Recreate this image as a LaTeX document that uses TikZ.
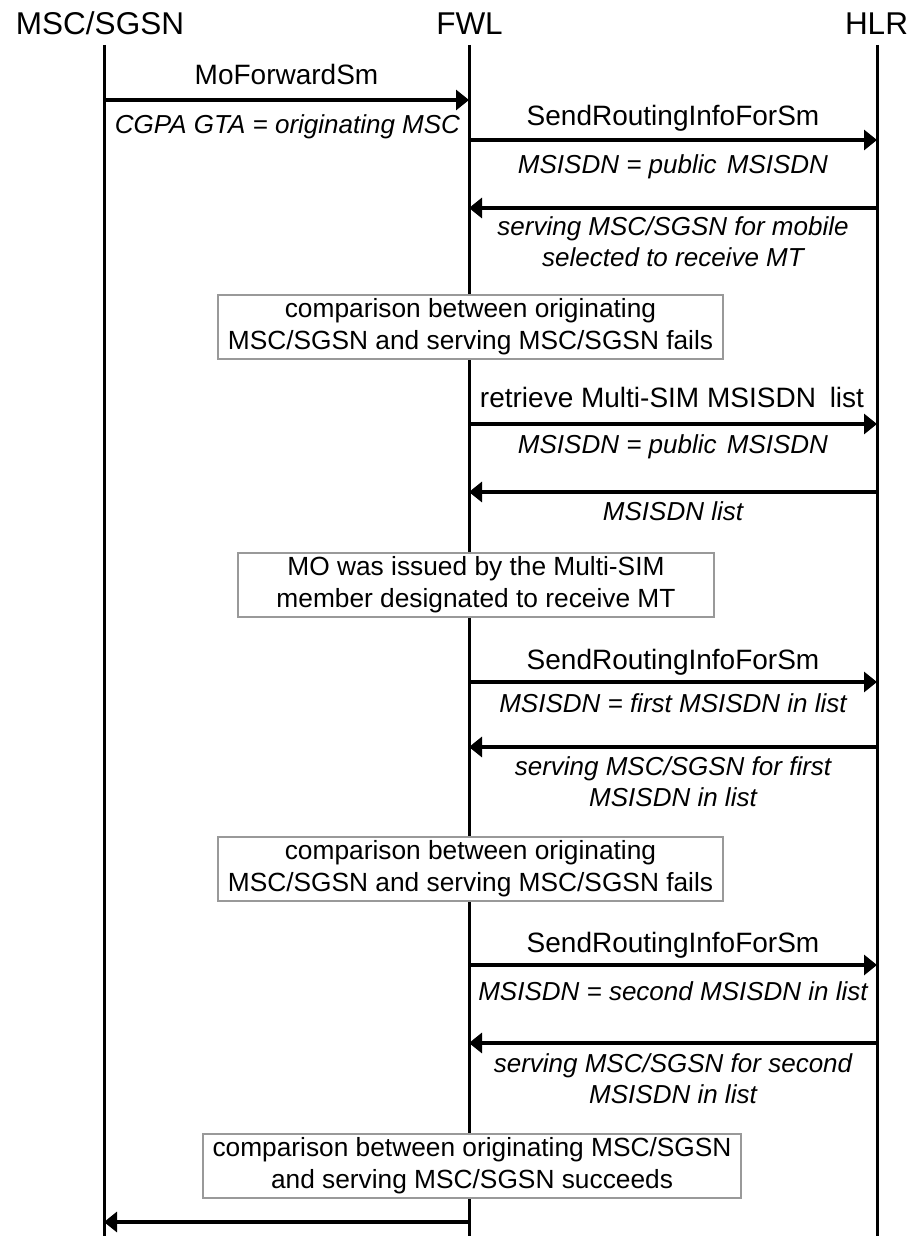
\documentclass[tikz,border=0pt]{standalone}
\usepackage{fontspec}
\setmainfont{Liberation Sans}
\usetikzlibrary{arrows.meta}
\begin{document}
\begin{tikzpicture}[x=1pt,y=-1pt,
  life/.style={line width=3pt},
  msg/.style={line width=3.2pt,-{Triangle[length=13pt,width=20pt]}},
  head/.style={anchor=base,inner sep=0pt,font=\fontsize{31.5}{36}\selectfont},
  lbl/.style={anchor=base,inner sep=0pt,font=\fontsize{28}{32}\selectfont},
  ital/.style={anchor=base,inner sep=0pt,align=center,font=\fontsize{26}{31}\selectfont\itshape},
  note/.style={draw=black!40,line width=1.3pt,fill=white,align=center,inner sep=0pt,
    minimum height=64pt,font=\fontsize{26.3}{32}\selectfont}
]
\useasboundingbox (0,0) rectangle (911,1236);

% headers
\node[head] (hm) at (100,35) {MSC/SGSN};
\node[head] (hf) at (469.5,35) {FWL};
\node[head] (hh) at (876.5,35) {HLR};

% lifelines
\coordinate (mtop) at (104,45);  \coordinate (mbot) at (104,1236);
\coordinate (ftop) at (469,45);  \coordinate (fbot) at (469,1236);
\coordinate (htop) at (877,45);  \coordinate (hbot) at (877,1236);
\draw[life] (mtop) -- (mbot);
\draw[life] (ftop) -- (fbot);
\draw[life] (htop) -- (hbot);

% message end points
\foreach \n/\y in {1/100,10/1222}{
  \coordinate (m\n) at (104,\y); \coordinate (f\n) at (469,\y);}
\foreach \n/\y in {2/140,3/208,4/424,5/492,6/682,7/747,8/965,9/1043}{
  \coordinate (f\n) at (469,\y); \coordinate (h\n) at (877,\y);}

% 1
\draw[msg] (m1) -- (f1);
\node[lbl] (l1) at (286.5,85) {MoForwardSm};
\node[ital] (i1) at (287.5,133) {CGPA GTA = originating MSC};
% 2
\draw[msg] (f2) -- (h2);
\node[lbl] (l2) at (673,126) {SendRoutingInfoForSm};
\node[ital] (i2) at (673,173) {MSISDN = public\hspace{3pt} MSISDN};
% 3
\draw[msg] (h3) -- (f3);
\node[ital] (i3) at (673,266) {serving MSC/SGSN for mobile\\selected to receive MT};
% box 1
\node[note,minimum width=505pt] (b1) at (470.5,327) {comparison between originating\\MSC/SGSN and serving MSC/SGSN fails};
% 4
\draw[msg] (f4) -- (h4);
\node[lbl] (l4) at (672,407) {retrieve Multi-SIM MSISDN\hspace{6pt} list};
\node[ital] (i4) at (673,453) {MSISDN = public\hspace{3pt} MSISDN};
% 5
\draw[msg] (h5) -- (f5);
\node[ital] (i5) at (673,520) {MSISDN list};
% box 2
\node[note,minimum width=476pt] (b2) at (476,585) {MO was issued by the Multi-SIM\\member designated to receive MT};
% 6
\draw[msg] (f6) -- (h6);
\node[lbl] (l6) at (673,669) {SendRoutingInfoForSm};
\node[ital] (i6) at (673,712) {MSISDN = first MSISDN in list};
% 7
\draw[msg] (h7) -- (f7);
\node[ital] (i7) at (673,806) {serving MSC/SGSN for first\\MSISDN in list};
% box 3
\node[note,minimum width=505pt] (b3) at (470.5,869) {comparison between originating\\MSC/SGSN and serving MSC/SGSN fails};
% 8
\draw[msg] (f8) -- (h8);
\node[lbl] (l8) at (673,952) {SendRoutingInfoForSm};
\node[ital] (i8) at (673,1000) {MSISDN = second MSISDN in list};
% 9
\draw[msg] (h9) -- (f9);
\node[ital] (i9) at (673,1103) {serving MSC/SGSN for second\\MSISDN in list};
% box 4
\node[note,minimum width=538pt] (b4) at (472,1166) {comparison between originating MSC/SGSN\\and serving MSC/SGSN succeeds};
% 10
\draw[msg] (f10) -- (m10);
\end{tikzpicture}
\end{document}
